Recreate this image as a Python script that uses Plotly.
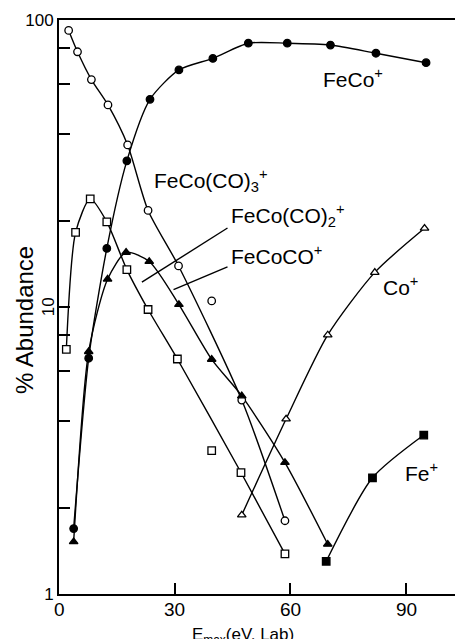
import math
import plotly.graph_objects as go

# ---------------- data ----------------
# FeCo(CO)3+  (open circles)
feco3_x = [2.5, 4.8, 8.4, 12.7, 17.8, 23.1, 31.0, 39.6, 47.4, 58.6]
feco3_y = [92, 77.5, 62, 50.6, 36.7, 21.7, 13.9, 10.5, 4.74, 1.80]
feco3_on_curve = [1, 1, 1, 1, 1, 1, 1, 0, 1, 1]

# FeCo+  (filled circles)
feco_x = [3.8, 7.7, 12.4, 17.6, 23.6, 31.1, 39.9, 49.1, 59.2, 70.4, 82.2, 95.2]
feco_y = [1.69, 6.63, 16.0, 32.3, 52.9, 67, 73.5, 83, 83, 81.8, 76.6, 71]

# FeCo(CO)2+  (open squares)
feco2_x = [1.9, 4.3, 8.1, 12.4, 17.6, 23.1, 30.7, 39.6, 47.2, 58.6]
feco2_y = [7.12, 18.2, 23.8, 19.8, 13.5, 9.8, 6.59, 3.16, 2.65, 1.38]
feco2_on_curve = [1, 1, 1, 1, 1, 1, 1, 0, 1, 1]

# FeCoCO+  (filled triangles)
feco1_x = [3.8, 7.7, 12.6, 17.4, 23.4, 31.1, 39.6, 47.4, 58.6, 69.7]
feco1_y = [1.52, 6.99, 12.5, 15.5, 14.4, 10.2, 6.57, 4.9, 2.87, 1.49]

# Co+  (open triangles)
co_x = [47.4, 58.9, 69.7, 81.9, 94.8]
co_y = [1.885, 4.07, 7.99, 13.2, 18.8]

# Fe+  (filled squares)
fe_x = [69.3, 81.3, 94.6]
fe_y = [1.30, 2.54, 3.58]

# label pointer lines (data units): [tail, tip]
ptr_feco2_x = [43.7, 21.5]
ptr_feco2_y = [18.85, 12.2]
ptr_feco1_x = [43.7, 29.7]
ptr_feco1_y = [13.8, 11.5]

y_tickvals = [1, 2, 4, 6, 8, 10, 20, 40, 60, 80, 100]
y_ticktext = ["1", "", "", "", "", "", "", "", "", "", "100"]
y_rotated_label = ("10", 10)   # drawn turned on its side, as in the original
x_tickvals = [0, 30, 60, 90]
x_ticktext = ["0", "30", "60", "90"]

FONT = "Liberation Sans, Arial, sans-serif"
INK = "black"
LW = 1.4
MS = 7.5

fig = go.Figure()


def curve(xs, ys, mask=None, shape="spline"):
    if mask is not None:
        xs = [x for x, m in zip(xs, mask) if m]
        ys = [y for y, m in zip(ys, mask) if m]
    fig.add_trace(go.Scatter(x=xs, y=ys, mode="lines",
                             line=dict(color=INK, width=LW, shape=shape, smoothing=0.7),
                             hoverinfo="skip", showlegend=False))


def points(xs, ys, symbol, filled):
    fig.add_trace(go.Scatter(x=xs, y=ys, mode="markers",
                             marker=dict(symbol=symbol, size=MS,
                                         color=INK if filled else "white",
                                         line=dict(color=INK, width=1.3)),
                             showlegend=False))


curve(feco3_x, feco3_y, feco3_on_curve)
curve(feco_x, feco_y)
curve(feco2_x, feco2_y, feco2_on_curve)
curve(feco1_x, feco1_y)
curve(co_x, co_y)
curve(fe_x, fe_y)
curve(ptr_feco2_x, ptr_feco2_y, shape="linear")
curve(ptr_feco1_x, ptr_feco1_y, shape="linear")

points(feco3_x, feco3_y, "circle", False)
points(feco_x, feco_y, "circle", True)
points(feco2_x, feco2_y, "square", False)
points(feco1_x, feco1_y, "triangle-up", True)
points(co_x, co_y, "triangle-up", False)
points(fe_x, fe_y, "square", True)

labels = [
    ("FeCo<sup>+</sup>", 67.9, 62.8),
    ("FeCo(CO)<sub>3</sub><sup>+</sup>", 24.1, 27.7),
    ("FeCo(CO)<sub>2</sub><sup>+</sup>", 44.2, 20.9),
    ("FeCoCO<sup>+</sup>", 44.2, 15.2),
    ("Co<sup>+</sup>", 83.6, 11.8),
    ("Fe<sup>+</sup>", 89.2, 2.66),
]
ann = []
for t, lx, ly in labels:
    ann.append(dict(text=t, x=lx, y=math.log10(ly), xref="x", yref="y",
                    xanchor="left", yanchor="middle", showarrow=False,
                    font=dict(family=FONT, size=21, color=INK)))

# x tick labels (placed close under the axis, as in the original)
for v, t in zip(x_tickvals, x_ticktext):
    ann.append(dict(text=t, x=v, y=-0.0265, xref="x", yref="paper",
                    xanchor="center", yanchor="middle", showarrow=False,
                    font=dict(family=FONT, size=19, color=INK)))

# the "10" tick label, printed sideways in the original
ann.append(dict(text=y_rotated_label[0], x=-0.027, y=math.log10(y_rotated_label[1]),
                xref="paper", yref="y", textangle=-90, showarrow=False,
                xanchor="center", yanchor="middle",
                font=dict(family=FONT, size=17, color=INK)))

ann.append(dict(text="% Abundance", x=-0.088, y=0.477, xref="paper", yref="paper",
                textangle=-90, showarrow=False, xanchor="center", yanchor="middle",
                font=dict(family=FONT, size=24, color=INK)))
ann.append(dict(text="E<sub>max</sub>(eV, Lab)", x=0.46, y=-0.051, xref="paper", yref="paper",
                showarrow=False, xanchor="center", yanchor="top",
                font=dict(family=FONT, size=17, color=INK)))

# the page adds an 8 px body margin, so the figure is 8 px smaller than the window
fig.update_layout(
    width=455, height=631,
    margin=dict(l=50.5, r=1, t=12, b=45),
    paper_bgcolor="white", plot_bgcolor="white",
    font=dict(family=FONT, color=INK),
    annotations=ann,
    showlegend=False,
)
fig.update_xaxes(range=[0, 104], tickvals=x_tickvals, showticklabels=False,
                 ticks="inside", ticklen=11, tickwidth=1.5, tickcolor=INK,
                 showline=True, linecolor=INK, linewidth=2, mirror=True,
                 showgrid=False, zeroline=False)
fig.update_yaxes(type="log", range=[0, 2], tickvals=y_tickvals, ticktext=y_ticktext,
                 ticks="inside", ticklen=11, tickwidth=1.5, tickcolor=INK,
                 showline=True, linecolor=INK, linewidth=2, mirror=True,
                 showgrid=False, zeroline=False, tickfont=dict(size=17))

fig.write_html("out.html")
